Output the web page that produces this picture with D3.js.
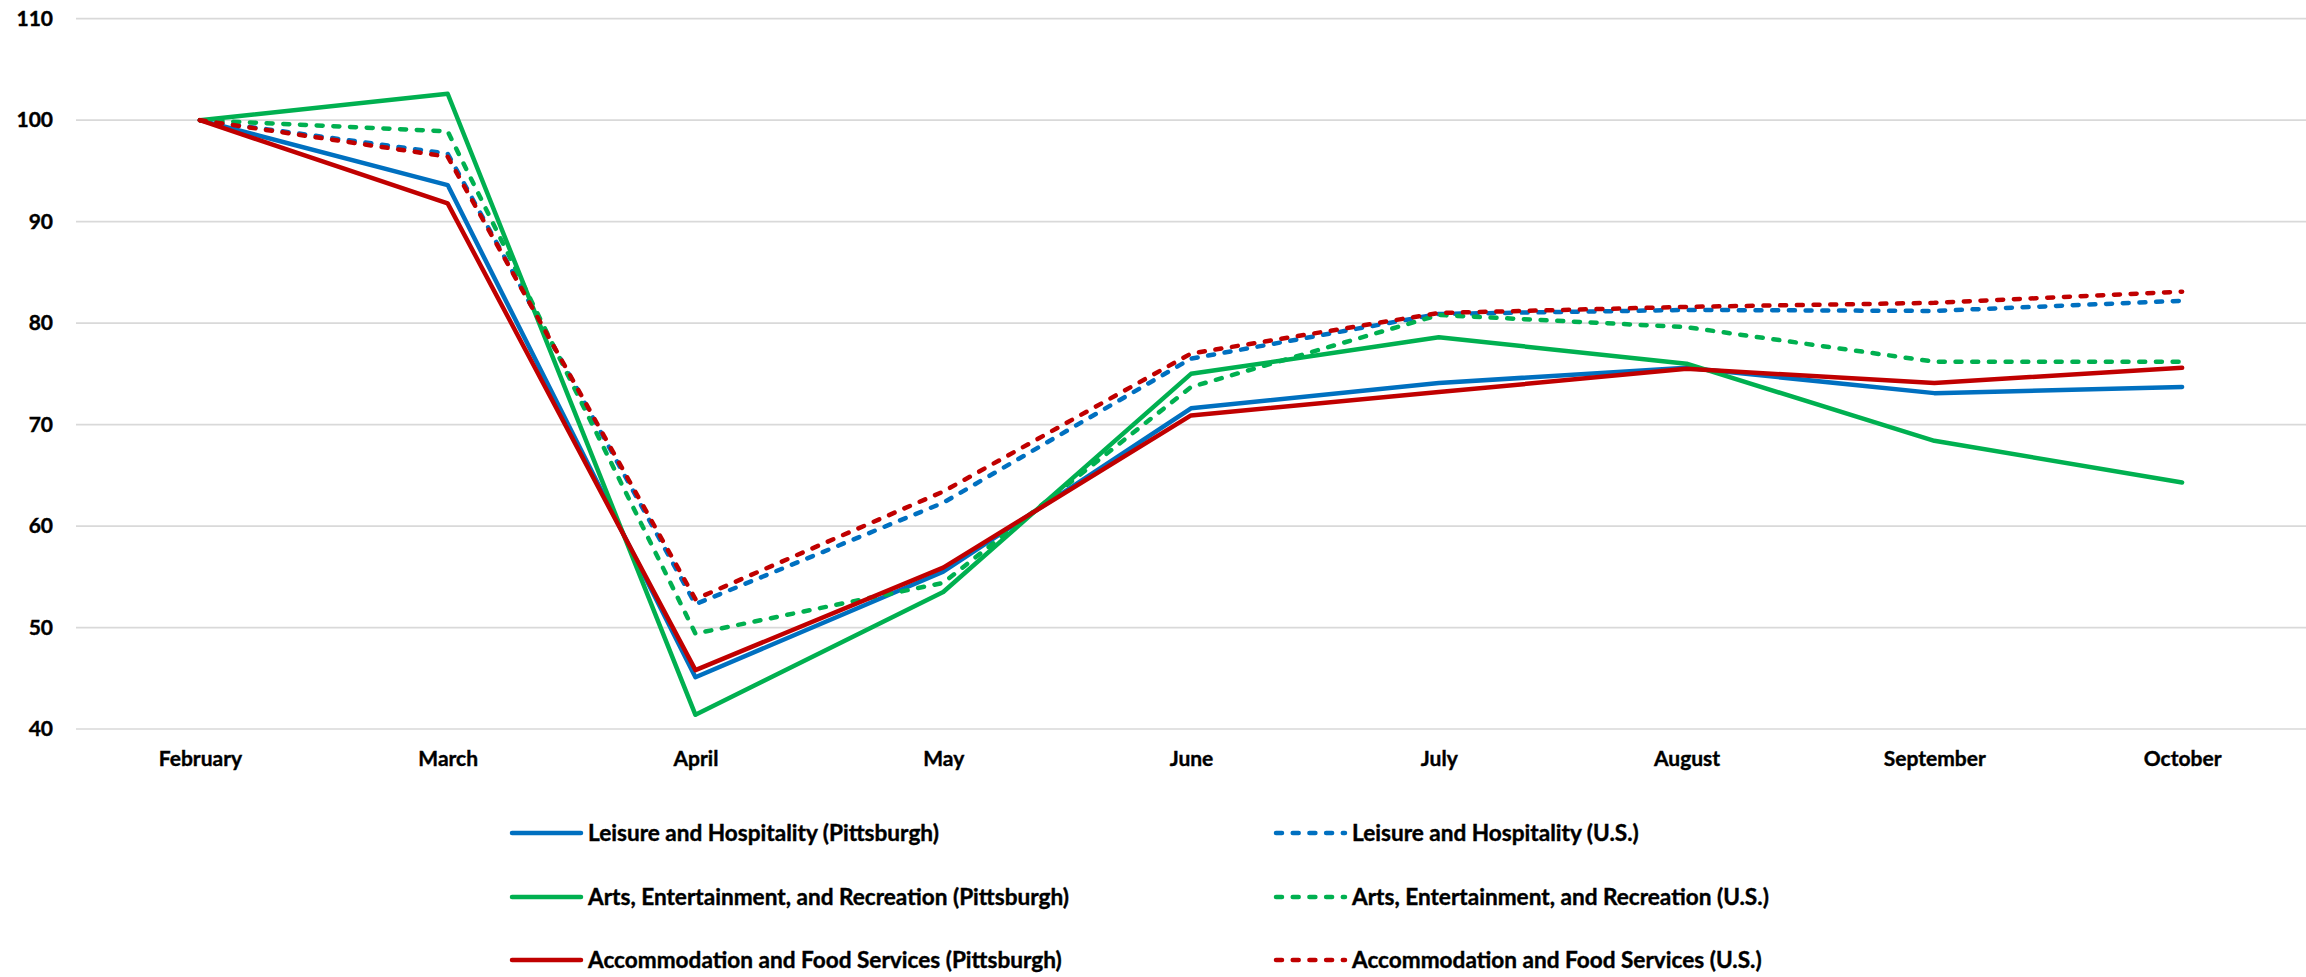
<!DOCTYPE html>
<html>
<head>
<meta charset="utf-8">
<script src="https://cdn.jsdelivr.net/npm/d3@7"></script>
<style>
  body { margin: 0; background: #fff; }
  text { font-family: Lato, "Open Sans", sans-serif; font-weight: bold; fill: #000; }
</style>
</head>
<body>
<script>
// width and height of the page
var w = 2306;
var h = 977;

// months on the x axis
var months = ["February", "March", "April", "May", "June", "July", "August", "September", "October"];

// y axis ticks
var yTicks = [40, 50, 60, 70, 80, 90, 100, 110];

// series values, index 100 = February
var leisurePgh = [100, 93.6, 45.1, 55.5, 71.6, 74.1, 75.6, 73.1, 73.7];
var leisureUS = [100, 96.7, 52.3, 62.3, 76.5, 80.9, 81.3, 81.2, 82.2];
var artsPgh = [100, 102.6, 41.4, 53.5, 75.0, 78.6, 76.0, 68.4, 64.3];
var artsUS = [100, 98.9, 49.4, 54.4, 73.7, 80.8, 79.6, 76.2, 76.2];
var accomPgh = [100, 91.8, 45.8, 55.9, 70.9, 73.2, 75.5, 74.1, 75.6];
var accomUS = [100, 96.4, 52.8, 63.4, 77.0, 81.0, 81.6, 82.0, 83.1];

var seriesNames = [
  "Leisure and Hospitality (Pittsburgh)",
  "Leisure and Hospitality (U.S.)",
  "Arts, Entertainment, and Recreation (Pittsburgh)",
  "Arts, Entertainment, and Recreation (U.S.)",
  "Accommodation and Food Services (Pittsburgh)",
  "Accommodation and Food Services (U.S.)"
];
var seriesValues = [leisurePgh, leisureUS, artsPgh, artsUS, accomPgh, accomUS];
var seriesColors = ["#0070C0", "#0070C0", "#00B050", "#00B050", "#C00000", "#C00000"];
var seriesDashed = [false, true, false, true, false, true];

var svg = d3.select("body")
            .append("svg")
            .attr("width", w)
            .attr("height", h);

// scales
var xScale = d3.scalePoint()
               .domain(months)
               .range([76, 2306])
               .padding(0.5);

var yScale = d3.scaleLinear()
               .domain([40, 110])
               .range([729, 18.7]);

// gridlines
svg.append("g")
   .selectAll("line")
   .data(yTicks)
   .enter()
   .append("line")
   .attr("x1", 76)
   .attr("x2", w)
   .attr("y1", d => yScale(d))
   .attr("y2", d => yScale(d))
   .attr("stroke", "#d9d9d9")
   .attr("stroke-width", 1.7);

// y axis labels
var yAxis = svg.append("g")
   .attr("transform", "translate(60,0)")
   .call(d3.axisLeft(yScale).tickValues(yTicks).tickSize(0).tickPadding(7));
yAxis.select(".domain").remove();
yAxis.selectAll("text")
     .style("font-size", "21px")
     .style("font-family", "Lato, sans-serif")
     .style("font-weight", "bold")
     .style("stroke", "#000")
     .style("stroke-width", 0.4);

// x axis labels
var xAxis = svg.append("g")
   .attr("transform", "translate(0,729)")
   .call(d3.axisBottom(xScale).tickSize(0).tickPadding(22));
xAxis.select(".domain").remove();
xAxis.selectAll("text")
     .style("font-size", "21px")
     .style("font-family", "Lato, sans-serif")
     .style("font-weight", "bold")
     .style("stroke", "#000")
     .style("stroke-width", 0.4);

// lines
var line = d3.line()
             .x((d, i) => xScale(months[i]))
             .y(d => yScale(d));

svg.append("g")
   .selectAll("path")
   .data(seriesValues)
   .enter()
   .append("path")
   .attr("d", d => line(d))
   .attr("fill", "none")
   .attr("stroke", (d, i) => seriesColors[i])
   .attr("stroke-width", 4.5)
   .attr("stroke-linejoin", "round")
   .attr("stroke-linecap", "round")
   .attr("stroke-dasharray", (d, i) => seriesDashed[i] ? "6,10.7" : null);

// legend, two columns and three rows
var legendCols = [512, 1276];
var legendRows = [833, 897, 960];

var legend = svg.append("g")
   .selectAll("g")
   .data(seriesNames)
   .enter()
   .append("g")
   .attr("transform", (d, i) => "translate(" + legendCols[i % 2] + "," + legendRows[Math.floor(i / 2)] + ")");

legend.append("line")
      .attr("x1", 0)
      .attr("x2", 69)
      .attr("y1", 0)
      .attr("y2", 0)
      .attr("stroke", (d, i) => seriesColors[i])
      .attr("stroke-width", 4.5)
      .attr("stroke-linecap", "round")
      .attr("stroke-dasharray", (d, i) => seriesDashed[i] ? "6,10.7" : null);

legend.append("text")
      .attr("x", 76)
      .attr("y", 0)
      .attr("dy", "0.35em")
      .style("font-size", "22.6px")
      .style("stroke", "#000")
      .style("stroke-width", 0.4)
      .text(d => d);
</script>
</body>
</html>
